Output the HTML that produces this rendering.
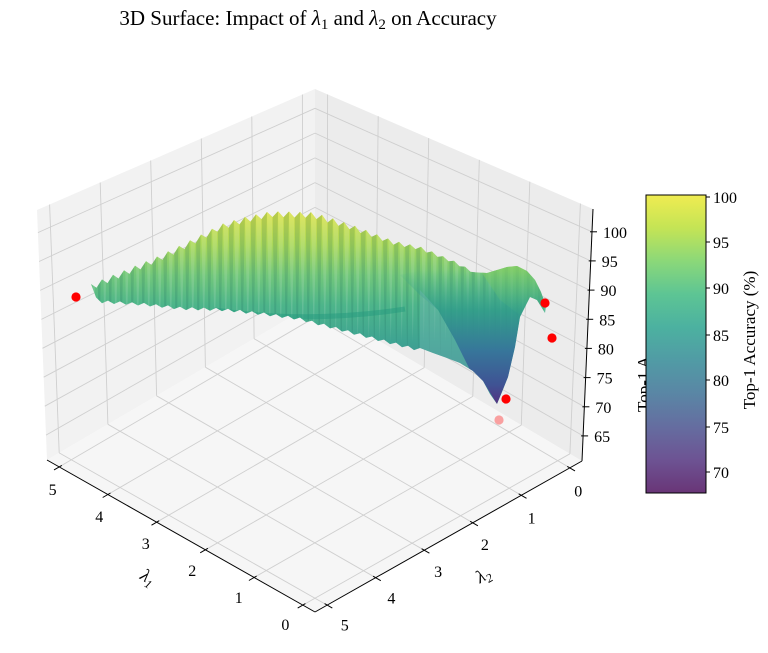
<!DOCTYPE html>
<html><head><meta charset="utf-8"><style>
html,body{margin:0;padding:0;background:#fff;}
svg{display:block;font-family:"Liberation Serif",serif;}
</style></head><body>
<svg id="s" width="768" height="653" viewBox="0 0 768 653" xmlns="http://www.w3.org/2000/svg">
<defs>
<linearGradient id="cb" x1="0" y1="1" x2="0" y2="0">
<stop offset="0" stop-color="#693577"/><stop offset="0.111" stop-color="#6d5393"/>
<stop offset="0.222" stop-color="#656da0"/><stop offset="0.333" stop-color="#5a86a5"/>
<stop offset="0.444" stop-color="#519ba5"/><stop offset="0.556" stop-color="#4cb1a0"/>
<stop offset="0.667" stop-color="#5dc594"/><stop offset="0.778" stop-color="#8bd879"/>
<stop offset="0.889" stop-color="#c4e455"/><stop offset="1" stop-color="#f0ec51"/>
</linearGradient>
<linearGradient id="sg" gradientUnits="userSpaceOnUse" x1="0" y1="215" x2="0" y2="365">
<stop offset="0" stop-color="#d6e14a"/><stop offset="0.2" stop-color="#a9d85a"/>
<stop offset="0.4" stop-color="#72c77a"/><stop offset="0.6" stop-color="#4db58a"/>
<stop offset="0.85" stop-color="#3ea392"/><stop offset="1" stop-color="#3c9394"/>
</linearGradient>
<linearGradient id="dg" gradientUnits="userSpaceOnUse" x1="0" y1="270" x2="0" y2="405">
<stop offset="0" stop-color="#45ad8a" stop-opacity="0"/><stop offset="0.3" stop-color="#2f9a8a" stop-opacity="0.8"/>
<stop offset="0.6" stop-color="#37769a"/><stop offset="0.85" stop-color="#3f5394"/>
<stop offset="1" stop-color="#56307f"/>
</linearGradient>
<linearGradient id="bg" gradientUnits="userSpaceOnUse" x1="0" y1="265" x2="0" y2="320">
<stop offset="0" stop-color="#86cf62"/><stop offset="1" stop-color="#3fae86" stop-opacity="0"/>
</linearGradient>
<pattern id="sp" width="11" height="400" patternUnits="userSpaceOnUse" x="91" y="212">
<polygon points="5.5,0 11,0 8.25,150" fill="#0a5a50" opacity="0.16"/>
<polygon points="0,0 5.5,0 2.75,130" fill="#ffffff" opacity="0.12"/>
</pattern>
<clipPath id="sc"><path id="scp"/></clipPath>
</defs>
<rect width="768" height="653" fill="#fff"/>
<g id="panes"></g>
<g id="grid" stroke="#cfcfcf" stroke-width="0.9" fill="none"></g>
<g id="surf"></g>
<g id="axes"></g>
<text x="308" y="25" font-size="21" text-anchor="middle">3D Surface: Impact of <tspan font-style="italic">λ</tspan><tspan font-size="15" dy="4">1</tspan><tspan dy="-4"> and </tspan><tspan font-style="italic">λ</tspan><tspan font-size="15" dy="4">2</tspan><tspan dy="-4"> on Accuracy</tspan></text>
<text transform="translate(649,412) rotate(-90)" font-size="17">Top-1 A</text>
<rect x="646" y="195" width="60" height="298" fill="url(#cb)" stroke="#000" stroke-width="1"/>
<g font-size="16" id="cbt"></g>
<text transform="translate(755,340) rotate(-90)" font-size="17" text-anchor="middle">Top-1 Accuracy (%)</text>
</svg>
<script>
(function(){
var NS="http://www.w3.org/2000/svg";
function el(p,tag,a,txt){var e=document.createElementNS(NS,tag);for(var k in a)e.setAttribute(k,a[k]);if(txt!==undefined)e.textContent=txt;(typeof p==="string"?document.getElementById(p):p).appendChild(e);return e;}
var F=[315,612],L0=[47,460],R0=[582,461],B0=[315,303],L1=[37,210],B1=[315,89],R1=[593,209];
function lp(a,b,t){return [a[0]+(b[0]-a[0])*t,a[1]+(b[1]-a[1])*t];}
function S(v){return (v+0.25)/5.5;} function Z(z){return (z-60.7)/43.2;}
function fl(s,t){return lp(lp(R0,F,t),lp(B0,L0,t),s);}
function pts(a){return a.map(function(p){return p[0].toFixed(1)+","+p[1].toFixed(1);}).join(" ");}
el("panes","polygon",{points:pts([L0,L1,B1,B0]),fill:"#f2f2f2"});
el("panes","polygon",{points:pts([B0,B1,R1,R0]),fill:"#ececec"});
el("panes","polygon",{points:pts([R0,F,L0,B0]),fill:"#f6f6f6"});
function ln(g,a,b,extra){var o={x1:a[0].toFixed(1),y1:a[1].toFixed(1),x2:b[0].toFixed(1),y2:b[1].toFixed(1)};if(extra)for(var k in extra)o[k]=extra[k];el(g,"line",o);}
var v,s,z,f,p,q;
for(v=0;v<=5;v++){s=S(v);ln("grid",fl(s,0),fl(s,1));ln("grid",fl(0,s),fl(1,s));
 ln("grid",lp(B0,L0,s),lp(B1,L1,s)); ln("grid",lp(R0,B0,s),lp(R1,B1,s));}
for(z=65;z<=100;z+=5){f=Z(z);
 ln("grid",lp(B0,B1,f),lp(L0,L1,f));
 ln("grid",lp(R0,R1,f),lp(B0,B1,f));}
var blk={stroke:"#000","stroke-width":1};
ln("axes",L0,F,blk);ln("axes",F,R0,blk);ln("axes",R0,R1,blk);
for(v=0;v<=5;v++){s=S(v);
 p=fl(s,1);var d=[-0.86,0.5];
 ln("axes",[p[0]-d[0]*3,p[1]-d[1]*3],[p[0]+d[0]*6,p[1]+d[1]*6],blk);
 el("axes","text",{x:(p[0]-18+12*s).toFixed(1),y:(p[1]+25+3*s).toFixed(1),"font-size":"16","text-anchor":"middle"},String(v));
 q=fl(0,s);var e=[0.86,0.5];
 ln("axes",[q[0]-e[0]*3,q[1]-e[1]*3],[q[0]+e[0]*6,q[1]+e[1]*6],blk);
 el("axes","text",{x:(q[0]+8+10*s).toFixed(1),y:(q[1]+29-4*s).toFixed(1),"font-size":"16","text-anchor":"middle"},String(v));}
for(z=65;z<=100;z+=5){p=lp(R0,R1,Z(z));
 ln("axes",[p[0]-2,p[1]],[p[0]+5,p[1]],blk);
 el("axes","text",{x:(p[0]+11).toFixed(1),y:(p[1]+6).toFixed(1),"font-size":"16"},String(z));}
var t1=el("axes","text",{transform:"translate(145,582) rotate(32)","font-size":"18","text-anchor":"middle","font-style":"italic"},"λ");
el(t1,"tspan",{"font-size":"12",dy:"4"},"1");
var t2=el("axes","text",{transform:"translate(486,580) rotate(-30)","font-size":"18","text-anchor":"middle","font-style":"italic"},"λ");
el(t2,"tspan",{"font-size":"12",dy:"4"},"2");
[[100,197],[95,242],[90,288],[85,335],[80,380],[75,427],[70,472]].forEach(function(a){
 ln("cbt",[706,a[1]],[710,a[1]],blk);
 el("cbt","text",{x:"713",y:String(a[1]+6)},String(a[0]));});
var topE=[[91,290],[122,277],[156,263],[183,250],[221,230],[244,223],[271,217],[313,218],[355,231],[394,245],[420,250],[453,263],[477,275]];
function interp(a,x){for(var i=0;i<a.length-1;i++){if(x>=a[i][0]&&x<=a[i+1][0]){var t=(x-a[i][0])/(a[i+1][0]-a[i][0]);return a[i][1]+(a[i+1][1]-a[i][1])*t;}}return a[a.length-1][1];}
var P=[],k=0,x;
for(x=91;x<=477;x+=5.5,k++){var amp=x<330?6:6-4*(x-330)/150;P.push([x,interp(topE,x)-(k%2==0?amp:0)]);}
P.push([487,273],[497,270],[507,267],[517,266],[527,271],[535,280],[541,292],[546,306],[545,313],[537,300],[530,297],[520,317],[515,347],[508,377],[502,392],[497,404],[490,394],[483,381],[473,371],[460,363],[447,358],[433,353],[420,348]);
var bot=[[91,293],[99,300],[145,303],[183,307],[221,308],[260,312],[298,317],[336,327],[374,337],[413,347],[420,348]];
k=0;for(x=414;x>=91;x-=6,k++){P.push([x,interp(bot,x)+(k%2==0?3:0)]);}
var dd="M"+P.map(function(p){return p[0].toFixed(1)+","+p[1].toFixed(1);}).join(" L")+" Z";
document.getElementById("scp").setAttribute("d",dd);
el("surf","path",{d:dd,fill:"url(#sg)"});
var g=el("surf","g",{"clip-path":"url(#sc)"});
el(g,"rect",{x:"80",y:"200",width:"480",height:"220",fill:"url(#sp)"});
el(g,"path",{d:"M214,310 Q310,324 405,309",stroke:"#239a7e","stroke-width":"5",fill:"none",opacity:"0.5"});
el(g,"polygon",{points:"400,275 440,265 477,272 497,268 517,265 533,277 541,292 546,306 530,297 520,317 515,347 508,377 497,404 483,381 470,370 455,340 438,310 420,295",fill:"url(#dg)"});
el(g,"polygon",{points:"420,290 438,310 455,340 470,370 460,363 447,358 420,348",fill:"#6ab3ae",opacity:"0.45"});
el(g,"polygon",{points:"480,270 517,264 535,277 546,306 530,297 520,315 500,300",fill:"url(#bg)",opacity:"0.8"});
[[76,297,1],[545,303,1],[552,338,1],[506,399,1],[499,420,0.35]].forEach(function(c){el("surf","circle",{cx:c[0],cy:c[1],r:"4.6",fill:"#ff0000",opacity:c[2]});});
})();
</script>
</body></html>
